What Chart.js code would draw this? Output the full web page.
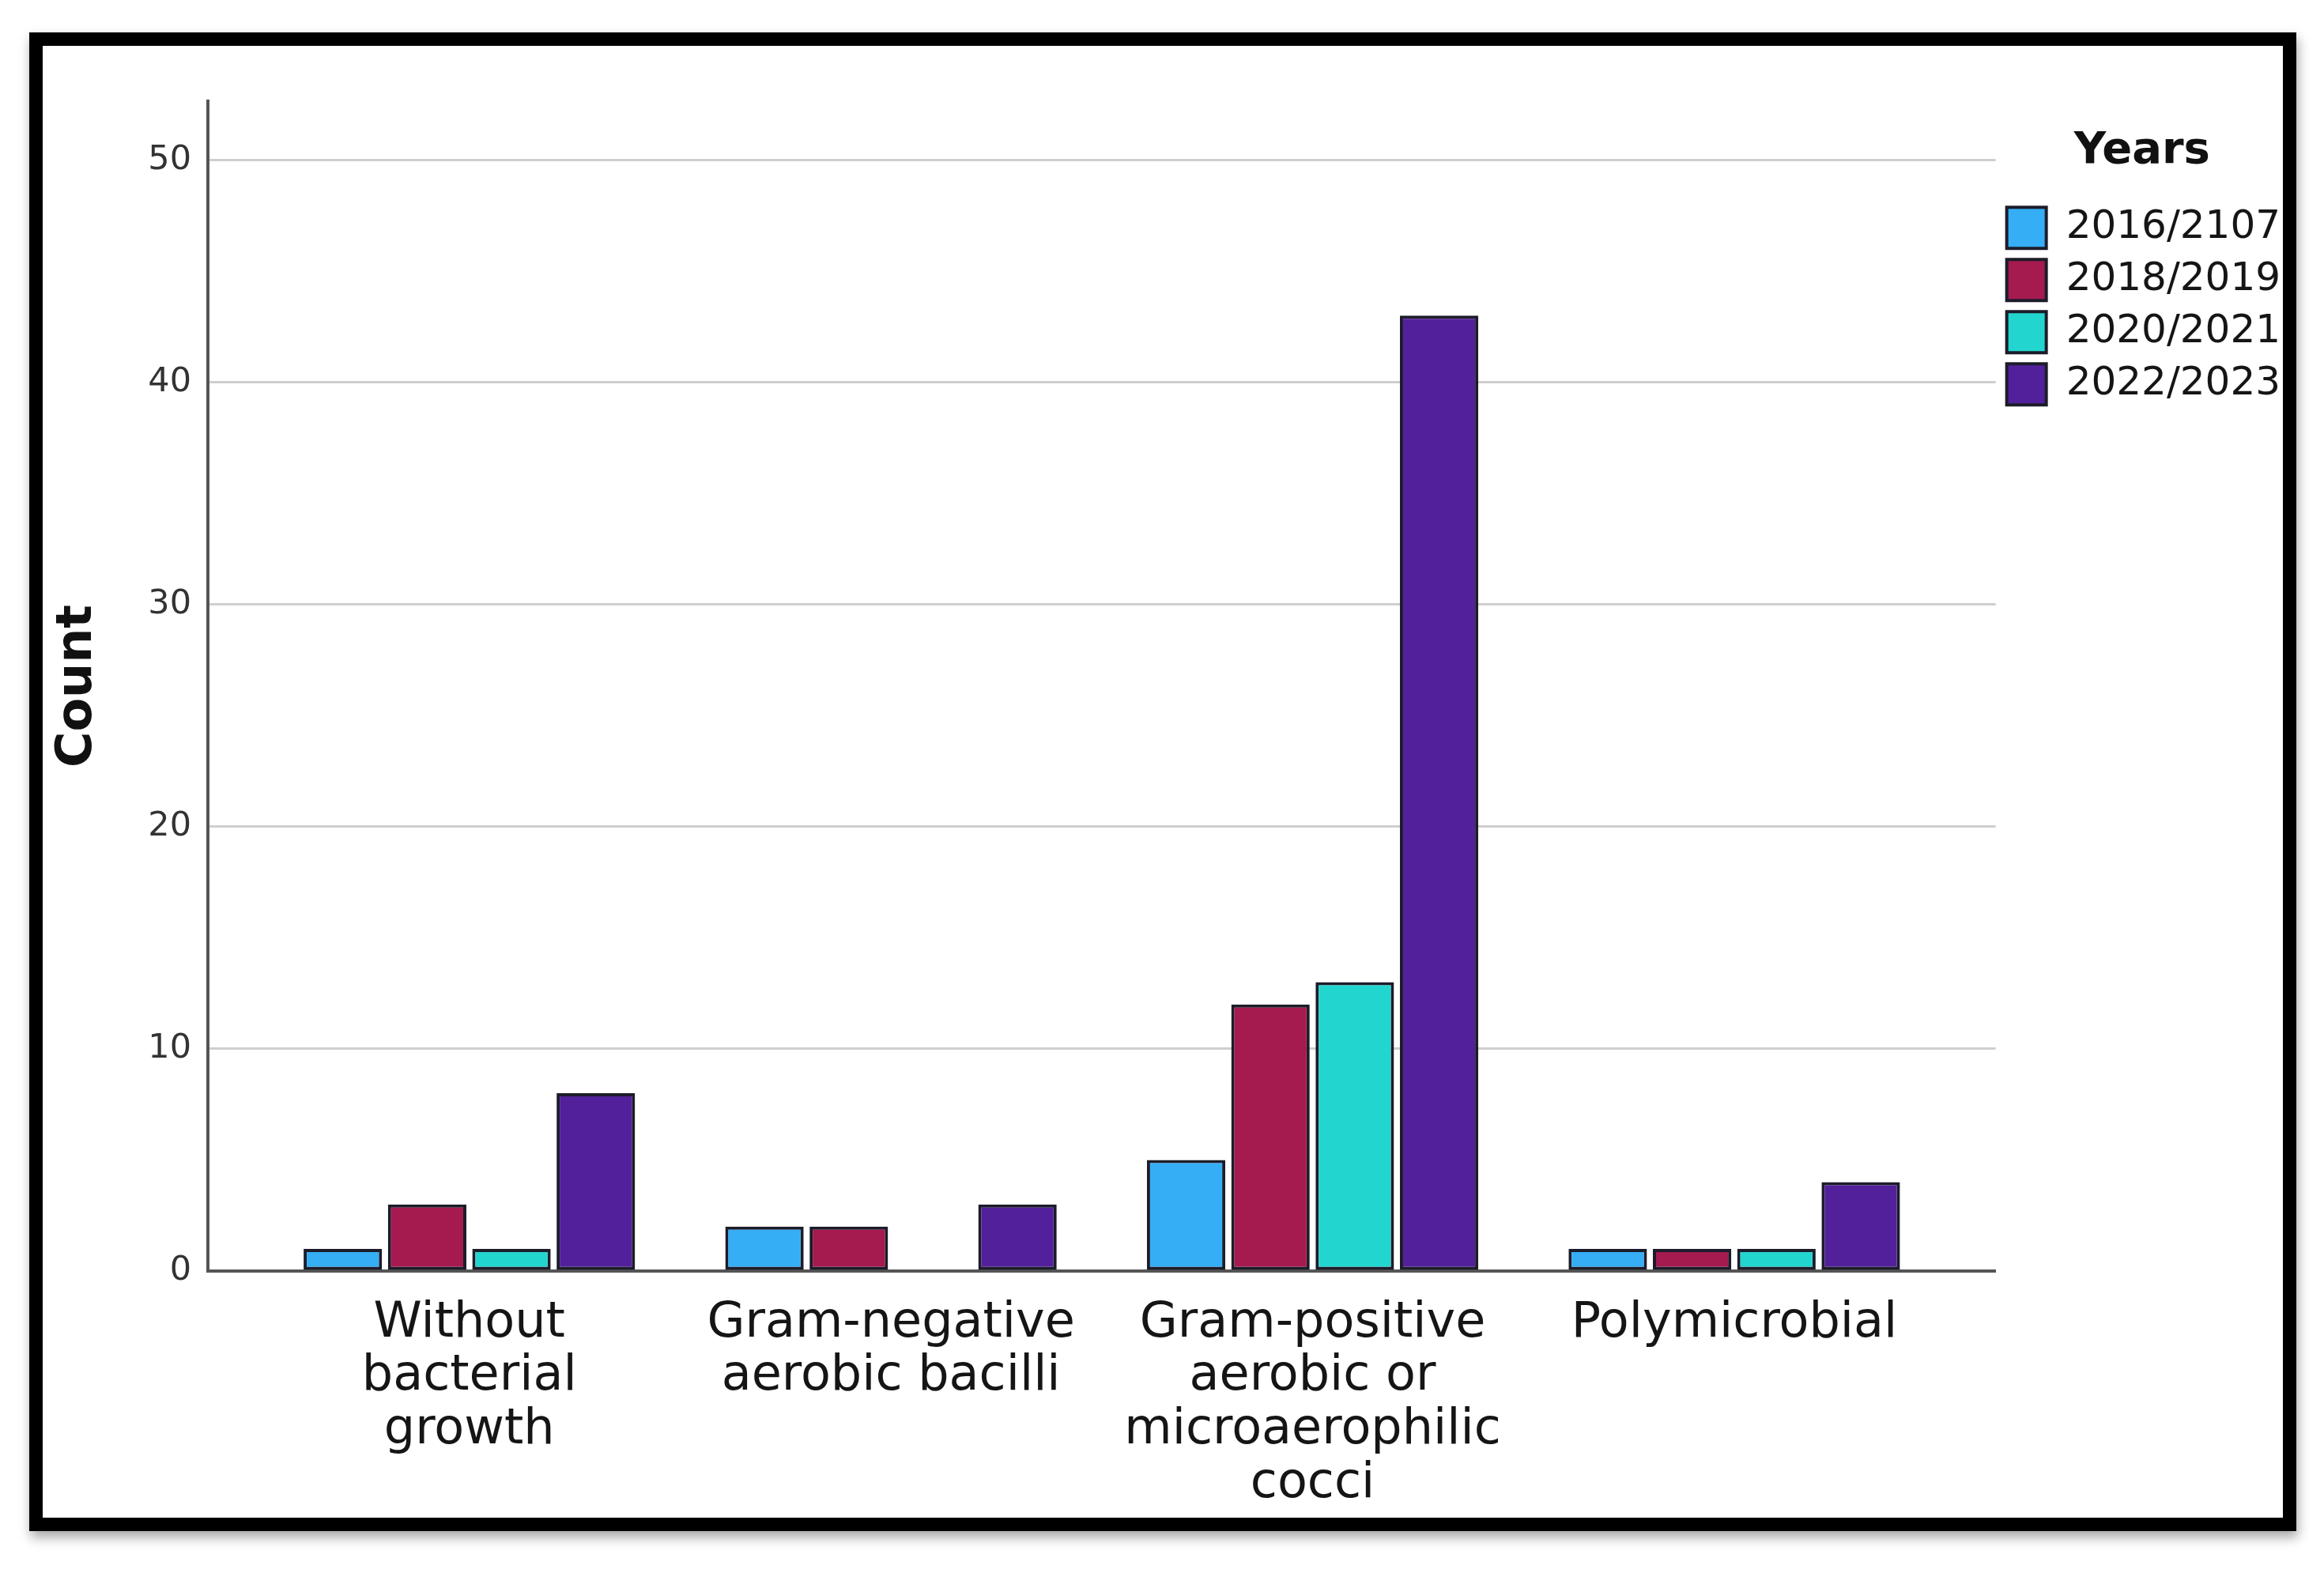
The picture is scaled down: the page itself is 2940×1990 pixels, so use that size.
<!DOCTYPE html>
<html>
<head>
<meta charset="utf-8">
<script src="https://cdn.jsdelivr.net/npm/chart.js@4.4.1/dist/chart.umd.min.js"></script>
<style>
  html, body { margin: 0; padding: 0; background: #fff; }
  #wrap { position: relative; width: 2940px; height: 1990px; }
  #frame {
    position: absolute; left: 37px; top: 41px; width: 2868px; height: 1896px;
    box-sizing: border-box; border: 17px solid #000;
    box-shadow: 2px 8px 14px rgba(0,0,0,0.35);
    pointer-events: none;
  }
</style>
</head>
<body>
<div id="wrap">
  <canvas id="chart" width="2940" height="1990"></canvas>
  <div id="frame"></div>
</div>
<script>
// categories (x axis), one label per line
const categories = [
  ['Without', 'bacterial', 'growth'],
  ['Gram-negative', 'aerobic bacilli'],
  ['Gram-positive', 'aerobic or', 'microaerophilic', 'cocci'],
  ['Polymicrobial']
];

const years = ['2016/2107', '2018/2019', '2020/2021', '2022/2023'];

// counts per year, in category order
const y2016 = [1, 2, 5, 1];
const y2018 = [3, 2, 12, 1];
const y2020 = [1, 0, 13, 1];
const y2022 = [8, 3, 43, 4];

const yTicks = [0, 10, 20, 30, 40, 50];

const colors = ['#35aef5', '#a51a4f', '#22d6cf', '#53209b'];
const series = [y2016, y2018, y2020, y2022];

Chart.defaults.font.family = '"DejaVu Sans", sans-serif';

const datasets = series.map(function(vals, i) {
  return {
    label: years[i],
    data: vals.map(function(v, j) { return { x: j, y: v }; }),
    backgroundColor: colors[i],
    borderColor: '#1c1c2a',
    borderWidth: 4,
    borderSkipped: false,
    categoryPercentage: 0.8,
    barPercentage: 0.93
  };
});

const ctx = document.getElementById('chart').getContext('2d');
const chart = new Chart(ctx, {
  type: 'bar',
  data: { datasets: datasets },
  options: {
    responsive: false,
    animation: false,
    devicePixelRatio: 1,
    layout: { padding: { left: 40, top: 128, right: 45, bottom: 0 } },
    scales: {
      x: {
        type: 'linear',
        offset: false,
        min: -0.62,
        max: 3.62,
        grid: { display: false, drawTicks: false },
        border: { display: true, color: '#555', width: 4 },
        afterBuildTicks: function(scale) {
          scale.ticks = categories.map(function(c, i) { return { value: i }; });
        },
        afterFit: function(scale) { scale.height = 382; },
        ticks: {
          autoSkip: false,
          maxRotation: 0,
          padding: 33,
          color: '#151515',
          font: { size: 62, lineHeight: 1.09 },
          callback: function(value, index) { return categories[index]; }
        }
      },
      y: {
        min: 0,
        max: 52.65,
        grid: { color: '#cfcfcf', lineWidth: 3, drawTicks: false },
        border: { display: true, color: '#555', width: 4 },
        afterBuildTicks: function(scale) {
          scale.ticks = yTicks.map(function(v) { return { value: v }; });
        },
        afterFit: function(scale) { scale.width = 223; },
        ticks: {
          padding: 21,
          color: '#333',
          font: { size: 43 }
        },
        title: {
          display: true,
          text: 'Count',
          color: '#111',
          font: { size: 62, weight: 'bold' },
          padding: { top: 22, bottom: 0 }
        }
      }
    },
    plugins: {
      tooltip: { enabled: false },
      legend: {
        position: 'right',
        align: 'start',
        title: {
          display: true,
          text: 'Years',
          color: '#111',
          font: { size: 56, weight: 'bold' },
          padding: { top: 35, bottom: 18 }
        },
        labels: {
          boxWidth: 50,
          boxHeight: 52,
          padding: 14,
          color: '#151515',
          font: { size: 50 }
        }
      }
    }
  }
});
</script>
</body>
</html>
